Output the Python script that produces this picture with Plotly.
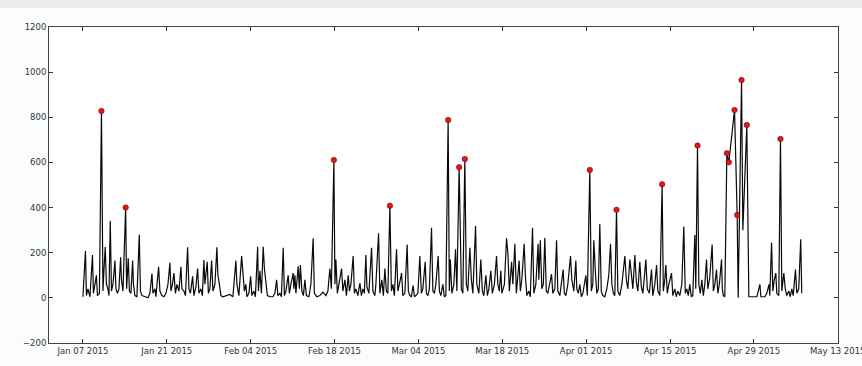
import pandas as pd
import plotly.graph_objects as go

# Days since 2015-01-07 and the measured value at each sample (regular points)
base_day = [
    0, 0.17, 0.42, 0.58, 0.83, 1.17, 1.59, 1.75, 2.00, 2.25, 2.42, 2.75,
    3.34, 3.50, 3.72, 3.92, 4.17, 4.34, 4.56, 4.76, 5.01, 5.34, 5.51, 5.76,
    6.01, 6.29, 6.43, 6.68, 7.29, 7.56, 7.76, 8.01, 8.29, 8.43, 8.68, 9.01,
    9.40, 9.60, 9.85, 10.35, 10.85, 11.18, 11.52, 11.68, 12.02, 12.18, 12.63,
    12.85, 13.18, 13.52, 13.85, 14.19, 14.52, 14.69, 14.94, 15.19, 15.44,
    15.69, 16.02, 16.36, 16.52, 16.86, 17.11, 17.47, 17.69, 17.94, 18.31,
    18.52, 18.86, 19.14, 19.36, 19.69, 19.94, 20.19, 20.36, 20.74, 20.94,
    21.19, 21.48, 21.70, 22.03, 22.36, 22.53, 22.78, 23.03, 23.36, 23.87,
    24.53, 25.03, 25.53, 25.70, 26.03, 26.49, 26.70, 26.95, 27.20, 27.37,
    27.70, 27.99, 28.20, 28.54, 28.79, 29.16, 29.29, 29.54, 29.79, 30.09,
    30.29, 30.54, 30.79, 31.21, 31.71, 32.04, 32.33, 32.54, 32.88, 33.13,
    33.43, 33.63, 33.88, 34.26, 34.46, 34.71, 35.10, 35.21, 35.38, 35.55,
    35.93, 36.13, 36.30, 36.55, 36.80, 37.05, 37.30, 37.72, 38.05, 38.43,
    38.63, 39.05, 39.55, 40.05, 40.55, 40.89, 41.22, 41.47, 42.06, 42.22,
    42.47, 42.72, 43.17, 43.39, 43.73, 43.98, 44.28, 44.48, 44.73, 45.11,
    45.31, 45.56, 45.89, 46.23, 46.48, 46.73, 46.98, 47.23, 47.40, 47.73,
    48.18, 48.40, 48.73, 48.90, 49.35, 49.57, 49.90, 50.15, 50.40, 50.65,
    50.90, 51.49, 51.74, 51.99, 52.35, 52.57, 52.82, 53.19, 53.40, 53.74,
    54.12, 54.32, 54.57, 54.82, 55.12, 55.32, 55.57, 55.91, 56.24, 56.49,
    56.74, 57.13, 57.33, 57.58, 57.83, 58.19, 58.41, 58.66, 58.91, 59.30,
    59.50, 59.75, 60.08, 60.33, 60.58, 61.16, 61.33, 61.58, 61.92, 62.20,
    62.42, 63.00, 63.17, 63.42, 64.00, 64.25, 64.59, 64.84, 65.09, 65.54,
    65.75, 66.09, 66.42, 66.67, 66.92, 67.26, 67.51, 67.76, 68.09, 68.34,
    68.68, 69.04, 69.26, 69.51, 69.76, 69.93, 70.35, 70.71, 70.93, 71.18,
    71.55, 71.76, 72.10, 72.35, 72.81, 73.01, 73.26, 73.65, 73.85, 74.10,
    74.43, 74.68, 75.05, 75.27, 75.60, 75.98, 76.10, 76.35, 76.60, 76.85,
    77.10, 77.35, 77.60, 77.94, 78.22, 78.44, 78.77, 79.06, 79.27, 79.61,
    79.86, 80.16, 80.36, 80.61, 80.94, 81.39, 81.61, 81.94, 82.28, 82.44,
    82.69, 82.94, 83.19, 83.45, 83.95, 84.20, 84.86, 85.11, 85.28, 85.53,
    85.78, 86.03, 86.28, 86.53, 86.78, 87.11, 87.45, 87.78, 88.07, 88.29,
    88.54, 88.79, 89.29, 89.62, 89.96, 90.21, 90.46, 90.71, 90.96, 91.30,
    91.55, 91.80, 92.13, 92.38, 92.63, 92.96, 93.21, 93.46, 93.71, 93.96,
    94.21, 94.55, 94.91, 95.13, 95.46, 95.75, 95.97, 96.30, 96.88, 97.13,
    97.30, 97.55, 97.80, 98.25, 98.47, 98.80, 99.05, 99.30, 99.63, 99.97,
    100.30, 100.55, 100.80, 101.05, 101.30, 101.55, 101.80, 102.14, 102.30,
    102.81, 103.06, 103.31, 103.56, 103.81, 104.09, 104.31, 104.64, 105.03,
    105.23, 105.48, 105.76, 105.98, 106.23, 106.60, 106.73, 106.90, 107.15,
    109.38, 110.16, 111.16, 111.66, 112.50, 113.00, 113.17, 113.84, 114.15,
    114.53, 114.66, 114.95, 115.16, 115.40, 115.66, 115.82, 116.16, 116.66,
    117.00, 117.24, 117.49, 117.83, 118.07, 118.32, 118.57, 118.94, 119.16,
    119.49, 119.82, 119.99,
]
base_val = [
    5, 100, 209, 10, 40, 5, 190, 20, 60, 100, 10, 20,
    30, 120, 225, 60, 40, 10, 342, 30, 60, 165, 40, 20,
    40, 180, 80, 30, 40, 175, 30, 20, 165, 60, 10, 5,
    279, 30, 10, 5, 0, 20, 108, 20, 40, 5, 138,
    30, 10, 5, 20, 60, 156, 30, 60, 110, 20,
    60, 30, 138, 40, 30, 10, 224, 40, 20, 95,
    10, 50, 130, 20, 40, 10, 168, 60, 160, 20,
    40, 165, 30, 60, 224, 100, 60, 10, 5, 10,
    15, 5, 165, 60, 10, 185, 120, 30, 60, 5,
    20, 95, 10, 30, 5, 226, 30, 120, 20, 226,
    130, 80, 10, 5, 5, 20, 80, 10, 20, 5,
    222, 10, 30, 100, 20, 60, 110, 40, 100, 20,
    140, 40, 145, 30, 10, 80, 10, 5, 60, 264,
    20, 5, 10, 25, 10, 30, 130, 40, 60, 170,
    20, 60, 130, 30, 80, 10, 100, 30, 60, 185,
    20, 40, 10, 65, 10, 40, 20, 190, 50, 20,
    222, 30, 10, 60, 286, 20, 80, 10, 130, 30,
    20, 30, 60, 10, 215, 30, 60, 110, 10, 20,
    236, 30, 10, 5, 55, 5, 10, 20, 185, 20,
    40, 160, 20, 10, 40, 311, 30, 20, 60, 185,
    30, 10, 60, 5, 10, 30, 170, 20, 60, 215,
    30, 200, 40, 20, 60, 30, 222, 80, 20, 318,
    60, 20, 170, 30, 10, 100, 10, 40, 120, 20,
    60, 185, 60, 30, 120, 20, 60, 264, 200, 30,
    160, 60, 240, 20, 165, 30, 80, 240, 100, 10,
    30, 5, 311, 20, 60, 240, 80, 255, 40, 60,
    265, 30, 20, 60, 105, 20, 40, 255, 30, 10,
    60, 125, 20, 10, 60, 185, 80, 30, 165, 40,
    20, 60, 5, 20, 100, 10, 30, 60, 255, 120,
    20, 40, 327, 30, 10, 5, 40, 100, 240, 60,
    20, 10, 30, 10, 60, 120, 185, 80, 40, 170,
    90, 40, 190, 70, 30, 160, 50, 20, 90, 170,
    40, 20, 125, 10, 60, 145, 30, 10, 30, 80,
    145, 20, 60, 110, 10, 40, 5, 30, 10, 60,
    316, 20, 40, 10, 60, 5, 10, 278, 40,
    60, 20, 80, 10, 60, 170, 40, 90, 236,
    30, 60, 125, 20, 60, 170, 40, 10, 5,
    0, 300, 5, 5, 5, 60, 5, 5, 20,
    60, 10, 245, 30, 80, 110, 20, 10, 30,
    110, 40, 10, 30, 5, 40, 10, 125, 20,
    40, 260, 20,
]

# Points flagged as anomalies (drawn as red dots, also part of the series)
anomaly_day = [3.09, 7.13, 41.89, 51.24, 60.96, 62.80, 63.75, 84.61, 89.07,
               96.68, 102.59, 107.49, 107.82, 108.77, 109.21, 109.94, 110.82,
               116.44]
anomaly_val = [828, 400, 611, 408, 788, 579, 615, 567, 390,
               503, 675, 641, 601, 832, 367, 965, 766, 704]

start = pd.Timestamp("2015-01-07")

series = pd.DataFrame({"day": base_day + anomaly_day,
                       "value": base_val + anomaly_val}).sort_values("day")
series["time"] = start + pd.to_timedelta(series["day"], unit="D")
anom_time = start + pd.to_timedelta(pd.Series(anomaly_day), unit="D")

fig = go.Figure()
fig.add_trace(go.Scatter(
    x=series["time"], y=series["value"], mode="lines",
    line=dict(color="#0a0a0a", width=1.2), showlegend=False,
))
fig.add_trace(go.Scatter(
    x=anom_time, y=anomaly_val, mode="markers",
    marker=dict(color="#e01818", size=5.5, line=dict(color="#5a0000", width=0.5)),
    showlegend=False,
))

axis_font = dict(family="DejaVu Sans", size=8.5, color="#333333")
fig.update_layout(
    width=862, height=366,
    margin=dict(l=49, r=24, t=27, b=23),
    paper_bgcolor="#fbfcfd", plot_bgcolor="#ffffff",
    xaxis=dict(
        type="date",
        range=["2015-01-01 08:00", "2015-05-13 01:00"],
        tick0="2015-01-07", dtick=14 * 86400000, tickformat="%b %d %Y",
        ticks="inside", ticklen=4, tickcolor="#333333", mirror="allticks",
        showline=True, linecolor="#444444", linewidth=1,
        showgrid=False, zeroline=False, tickfont=axis_font,
        ticklabeloverflow="allow", automargin=False,
    ),
    yaxis=dict(
        range=[-200, 1200], dtick=200,
        ticks="inside", ticklen=4, tickcolor="#333333", mirror="allticks",
        showline=True, linecolor="#444444", linewidth=1,
        showgrid=False, zeroline=False, tickfont=axis_font,
        automargin=False,
    ),
    shapes=[dict(type="rect", xref="paper", yref="paper",
                 x0=-0.07, x1=1.04, y0=1.06, y1=1.09,
                 fillcolor="#ececec", line=dict(width=0), layer="below")],
)

fig.write_html("out.html")
